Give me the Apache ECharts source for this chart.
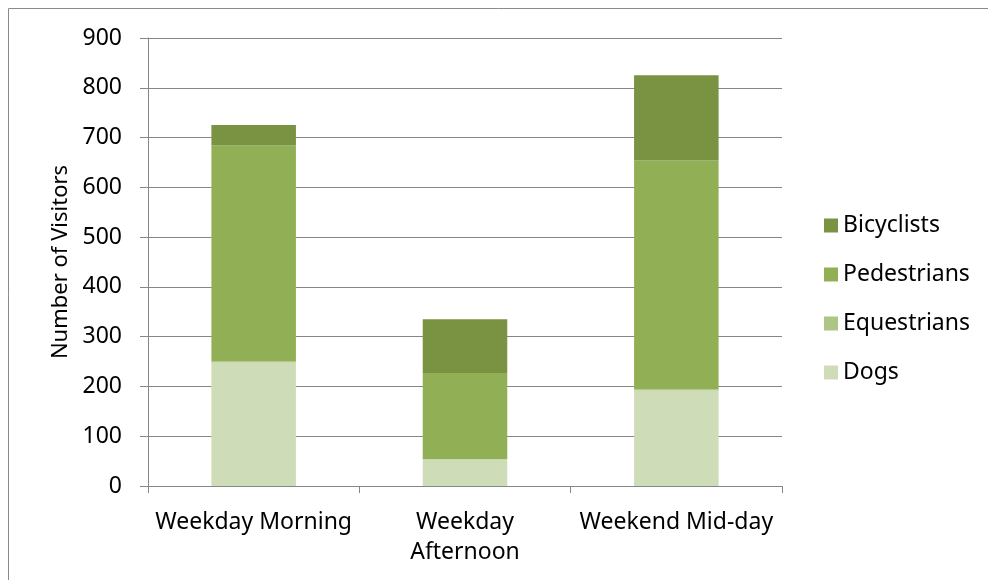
<!DOCTYPE html>
<html>
<head>
<meta charset="utf-8">
<script src="https://cdn.jsdelivr.net/npm/echarts@6/dist/echarts.min.js"></script>
<style>html,body{margin:0;padding:0;background:#fff}#c{width:988px;height:580px}</style>
</head>
<body>
<div id="c"></div>
<script>
var categories = ['Weekday Morning', 'Weekday\nAfternoon', 'Weekend Mid-day'];
var dogs = [248, 53, 192];
var equestrians = [2, 1, 2];
var pedestrians = [434, 173, 460];
var bicyclists = [41, 108, 171];
var yTicks = {min: 0, max: 900, interval: 100};
var legendOrder = ['Bicyclists', 'Pedestrians', 'Equestrians', 'Dogs'];

var FONT = 'Noto Sans';
var chart = echarts.init(document.getElementById('c'), null, {renderer: 'canvas'});
function s(name, data, color) {
  return {name: name, type: 'bar', stack: 'total', data: data, barWidth: '40%',
    itemStyle: {color: color}, emphasis: {disabled: true}};
}
chart.setOption({
  animation: false,
  textStyle: {fontFamily: FONT},
  graphic: [{type: 'rect', shape: {x: 8.5, y: 8.5, width: 1000, height: 600},
    style: {fill: 'none', stroke: '#8a8a8a', lineWidth: 1}, silent: true}],
  grid: {left: 148, right: 206, top: 38, bottom: 94},
  legend: {
    orient: 'vertical', left: 819, top: 209,
    data: legendOrder, itemWidth: 14, itemHeight: 14, itemGap: 26,
    icon: 'rect',
    textStyle: {fontFamily: FONT, fontSize: 23, color: '#000', lineHeight: 22}
  },
  xAxis: {
    type: 'category', data: categories,
    axisLine: {lineStyle: {color: '#868686', width: 1}},
    axisTick: {show: true, length: 7, alignWithLabel: false, lineStyle: {color: '#868686'}},
    axisLabel: {color: '#000', fontSize: 23, fontFamily: FONT, margin: 21, lineHeight: 30, interval: 0}
  },
  yAxis: {
    type: 'value', min: yTicks.min, max: yTicks.max, interval: yTicks.interval,
    name: 'Number of Visitors', nameLocation: 'middle', nameGap: 74,
    nameTextStyle: {color: '#000', fontSize: 22, fontFamily: FONT},
    axisLine: {show: true, lineStyle: {color: '#868686', width: 1}},
    axisTick: {show: true, length: 8, lineStyle: {color: '#868686'}},
    axisLabel: {color: '#000', fontSize: 23, fontFamily: FONT, margin: 26},
    splitLine: {show: true, lineStyle: {color: '#868686', width: 1}}
  },
  series: [
    s('Dogs', dogs, '#CFDCB8'),
    s('Equestrians', equestrians, '#ADC686'),
    s('Pedestrians', pedestrians, '#91B055'),
    s('Bicyclists', bicyclists, '#799343')
  ]
});
</script>
</body>
</html>
